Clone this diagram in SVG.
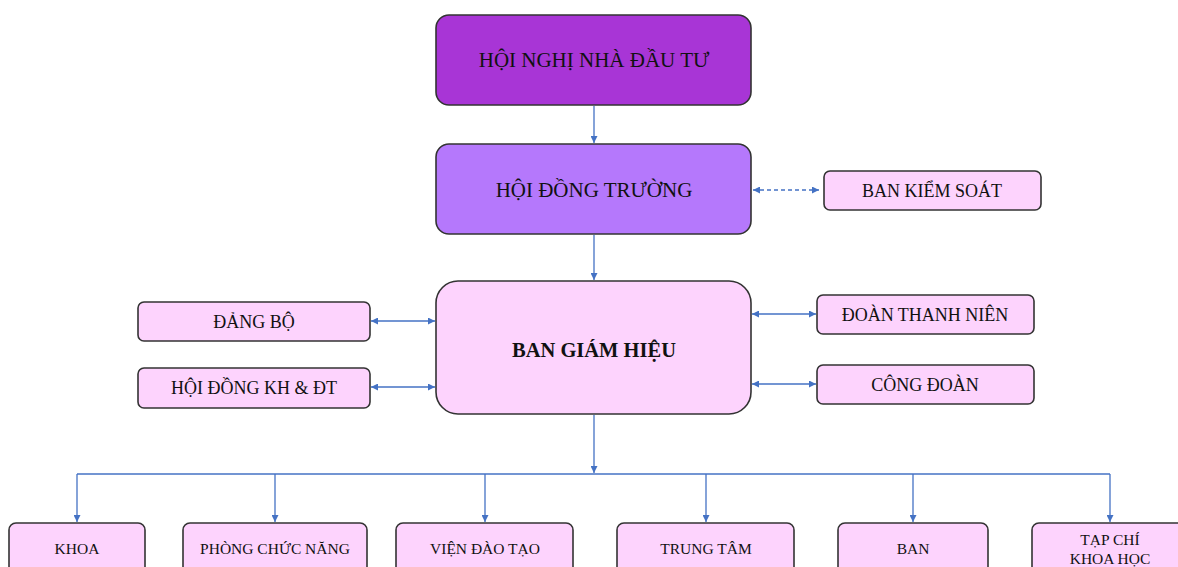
<svg xmlns="http://www.w3.org/2000/svg" width="1178" height="567" viewBox="0 0 1178 567">
  <defs>
    <marker id="arr" viewBox="0 0 10 10" refX="10" refY="5" markerWidth="7" markerHeight="7" orient="auto-start-reverse" markerUnits="userSpaceOnUse">
      <path d="M0,0 L10,5 L0,10 z" fill="#4472c4"/>
    </marker>
    <style>
      .box { stroke: #333; stroke-width: 1.6; }
      .pink { fill: #fdd3fd; }
      .t { font-family: "Liberation Serif", "Times New Roman", serif; fill: #111; text-anchor: middle; dominant-baseline: central; }
      .s { font-size: 18px; }
      .b { font-size: 15.5px; }
      .ln { stroke: #4472c4; stroke-width: 1.3; fill: none; }
      .dash { stroke-dasharray: 4 3; }
    </style>
  </defs>
  <rect width="1178" height="567" fill="#fff"/>

  <g id="connectors">
    <line class="ln" x1="594" y1="106" x2="594" y2="143" marker-end="url(#arr)"/>
    <line class="ln" x1="594" y1="235" x2="594" y2="280" marker-end="url(#arr)"/>
    <line class="ln dash" x1="753" y1="190" x2="819" y2="190" marker-start="url(#arr)" marker-end="url(#arr)"/>
    <line class="ln" x1="371" y1="321" x2="435" y2="321" marker-start="url(#arr)" marker-end="url(#arr)"/>
    <line class="ln" x1="371" y1="387" x2="435" y2="387" marker-start="url(#arr)" marker-end="url(#arr)"/>
    <line class="ln" x1="752" y1="314" x2="816" y2="314" marker-start="url(#arr)" marker-end="url(#arr)"/>
    <line class="ln" x1="752" y1="384" x2="816" y2="384" marker-start="url(#arr)" marker-end="url(#arr)"/>
    <line class="ln" x1="594" y1="415" x2="594" y2="473" marker-end="url(#arr)"/>
    <line class="ln" x1="77" y1="474" x2="1110" y2="474"/>
    <line class="ln" x1="77" y1="474" x2="77" y2="522" marker-end="url(#arr)"/>
    <line class="ln" x1="275" y1="474" x2="275" y2="522" marker-end="url(#arr)"/>
    <line class="ln" x1="485" y1="474" x2="485" y2="522" marker-end="url(#arr)"/>
    <line class="ln" x1="706" y1="474" x2="706" y2="522" marker-end="url(#arr)"/>
    <line class="ln" x1="913" y1="474" x2="913" y2="522" marker-end="url(#arr)"/>
    <line class="ln" x1="1110" y1="474" x2="1110" y2="522" marker-end="url(#arr)"/>
  </g>

  <g id="hoi-nghi-nha-dau-tu">
    <rect class="box" x="436" y="15" width="315" height="90" rx="13" fill="#a835d6"/>
    <text class="t" x="594" y="60" font-size="21">HỘI NGHỊ NHÀ ĐẦU TƯ</text>
  </g>
  <g id="hoi-dong-truong">
    <rect class="box" x="436" y="144" width="315" height="90" rx="13" fill="#b578fc"/>
    <text class="t" x="594" y="190" font-size="21">HỘI ĐỒNG TRƯỜNG</text>
  </g>
  <g id="ban-kiem-soat">
    <rect class="box pink" x="824" y="171" width="217" height="39" rx="6"/>
    <text class="t s" x="932" y="191">BAN KIỂM SOÁT</text>
  </g>
  <g id="ban-giam-hieu">
    <rect class="box pink" x="436" y="281" width="315" height="133" rx="22"/>
    <text class="t" x="594" y="350" font-size="20.5" font-weight="bold">BAN GIÁM HIỆU</text>
  </g>
  <g id="dang-bo">
    <rect class="box pink" x="138" y="302" width="232" height="39" rx="6"/>
    <text class="t s" x="254" y="322">ĐẢNG BỘ</text>
  </g>
  <g id="hoi-dong-kh-dt">
    <rect class="box pink" x="138" y="368" width="232" height="40" rx="6"/>
    <text class="t s" x="254" y="388">HỘI ĐỒNG KH &amp; ĐT</text>
  </g>
  <g id="doan-thanh-nien">
    <rect class="box pink" x="817" y="295" width="217" height="39" rx="6"/>
    <text class="t s" x="925" y="315">ĐOÀN THANH NIÊN</text>
  </g>
  <g id="cong-doan">
    <rect class="box pink" x="817" y="365" width="217" height="39" rx="6"/>
    <text class="t s" x="925" y="385">CÔNG ĐOÀN</text>
  </g>

  <g id="khoa">
    <rect class="box pink" x="9" y="523" width="136" height="60" rx="7"/>
    <text class="t b" x="77" y="548">KHOA</text>
  </g>
  <g id="phong-chuc-nang">
    <rect class="box pink" x="183" y="523" width="184" height="60" rx="7"/>
    <text class="t b" x="275" y="548">PHÒNG CHỨC NĂNG</text>
  </g>
  <g id="vien-dao-tao">
    <rect class="box pink" x="396" y="523" width="177" height="60" rx="7"/>
    <text class="t b" x="485" y="548">VIỆN ĐÀO TẠO</text>
  </g>
  <g id="trung-tam">
    <rect class="box pink" x="617" y="523" width="177" height="60" rx="7"/>
    <text class="t b" x="706" y="548">TRUNG TÂM</text>
  </g>
  <g id="ban">
    <rect class="box pink" x="838" y="523" width="150" height="60" rx="7"/>
    <text class="t b" x="913" y="548">BAN</text>
  </g>
  <g id="tap-chi-khoa-hoc">
    <rect class="box pink" x="1032" y="523" width="160" height="60" rx="7"/>
    <text class="t b" x="1110" y="539">TẠP CHÍ</text>
    <text class="t b" x="1110" y="558">KHOA HỌC</text>
  </g>
</svg>
